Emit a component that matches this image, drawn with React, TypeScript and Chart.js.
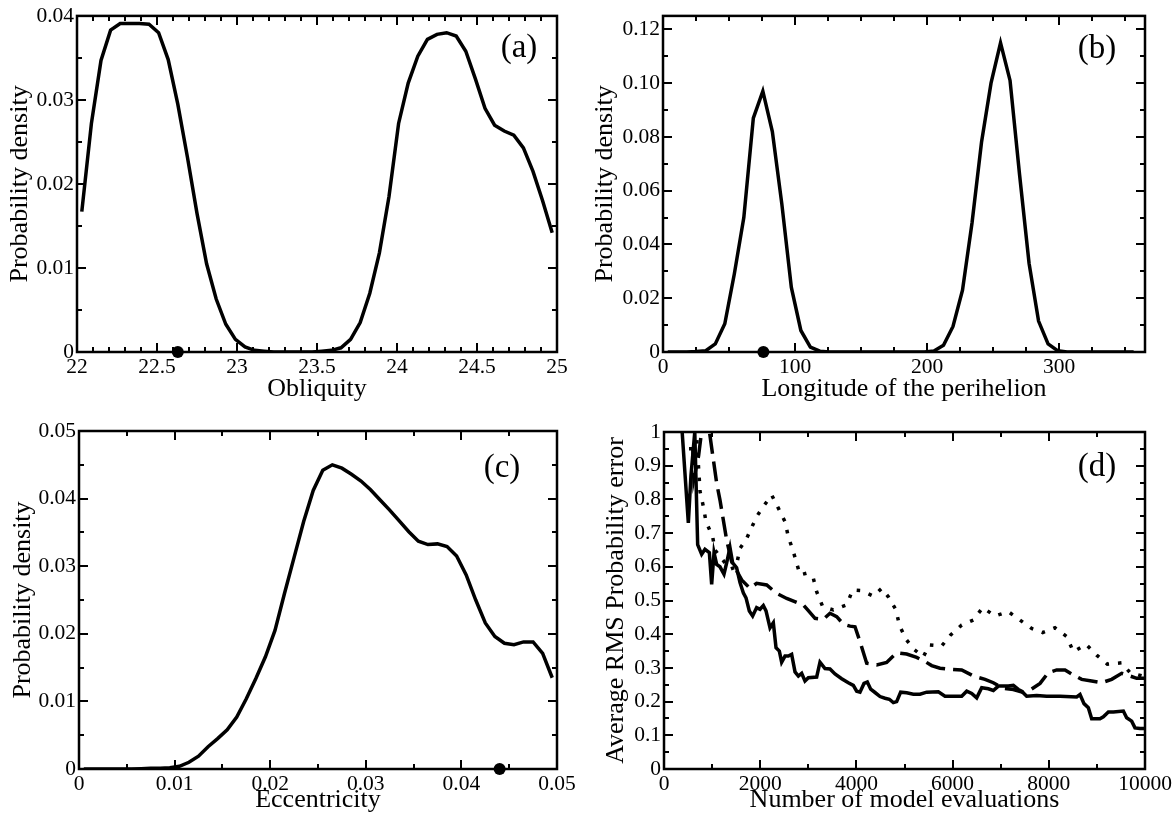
import React, { useEffect, useRef } from "react";
import { Chart, registerables } from "chart.js";

Chart.register(...registerables);

const SERIF = "'Liberation Serif', 'Times New Roman', Times, serif";

// ---------- Panel (a): Obliquity ----------
const obliquityX = [
  22.03, 22.09, 22.15, 22.21, 22.27, 22.33, 22.39, 22.45, 22.51, 22.57,
  22.63, 22.69, 22.75, 22.81, 22.87, 22.93, 22.99, 23.05, 23.11, 23.17,
  23.23, 23.29, 23.35, 23.41, 23.47, 23.53, 23.59, 23.65, 23.71, 23.77,
  23.83, 23.89, 23.95, 24.01, 24.07, 24.13, 24.19, 24.25, 24.31, 24.37,
  24.43, 24.49, 24.55, 24.61, 24.67, 24.73, 24.79, 24.85, 24.91, 24.97,
];
const obliquityDensity = [
  0.0167, 0.0272, 0.0347, 0.0383, 0.0391, 0.0391, 0.0391, 0.039, 0.038, 0.0348,
  0.0295, 0.0232, 0.0165, 0.0105, 0.0063, 0.0033, 0.0015, 0.0006, 0.0002, 0.0001,
  0, 0, 0, 0, 0, 0.0001, 0.0002, 0.0005, 0.0015, 0.0035,
  0.007, 0.0118, 0.0185, 0.0272, 0.032, 0.0352, 0.0372, 0.0378, 0.038, 0.0376,
  0.0358, 0.0325, 0.029, 0.027, 0.0263, 0.0258, 0.0243, 0.0215, 0.018, 0.0142,
];
const obliquityMarker = [22.63];
const obliquityTicks = [22, 22.5, 23, 23.5, 24, 24.5, 25];
const obliquityTickLabels = ["22", "22.5", "23", "23.5", "24", "24.5", "25"];
const obliquityDensityTicks = [0, 0.01, 0.02, 0.03, 0.04];
const obliquityDensityTickLabels = ["0", "0.01", "0.02", "0.03", "0.04"];

// ---------- Panel (b): Longitude of the perihelion ----------
const perihelionX = [
  3.6, 10.8, 18, 25.2, 32.4, 39.6, 46.8, 54, 61.2, 68.4,
  75.6, 82.8, 90, 97.2, 104.4, 111.6, 118.8, 126, 133.2, 140.4,
  147.6, 154.8, 162, 169.2, 176.4, 183.6, 190.8, 198, 205.2, 212.4,
  219.6, 226.8, 234, 241.2, 248.4, 255.6, 262.8, 270, 277.2, 284.4,
  291.6, 298.8, 306, 313.2, 320.4, 327.6, 334.8, 342, 349.2, 356.4,
];
const perihelionDensity = [
  0, 0, 0, 0.0002, 0.0005, 0.003, 0.0105, 0.029, 0.05, 0.087,
  0.097, 0.082, 0.055, 0.024, 0.008, 0.0018, 0.0003, 0, 0, 0,
  0, 0, 0, 0, 0, 0, 0, 0, 0.0004, 0.0025,
  0.0095, 0.023, 0.048, 0.078, 0.1, 0.115, 0.101, 0.066, 0.033, 0.0115,
  0.003, 0.0005, 0, 0, 0, 0, 0, 0, 0, 0,
];
const perihelionMarker = [76];
const perihelionTicks = [0, 100, 200, 300];
const perihelionTickLabels = ["0", "100", "200", "300"];
const perihelionDensityTicks = [0, 0.02, 0.04, 0.06, 0.08, 0.1, 0.12];
const perihelionDensityTickLabels = ["0", "0.02", "0.04", "0.06", "0.08", "0.10", "0.12"];

// ---------- Panel (c): Eccentricity ----------
const eccentricityX = [
  0.0005, 0.0015, 0.0025, 0.0035, 0.0045, 0.0055, 0.0065, 0.0075, 0.0085, 0.0095,
  0.0105, 0.0115, 0.0125, 0.0135, 0.0145, 0.0155, 0.0165, 0.0175, 0.0185, 0.0195,
  0.0205, 0.0215, 0.0225, 0.0235, 0.0245, 0.0255, 0.0265, 0.0275, 0.0285, 0.0295,
  0.0305, 0.0315, 0.0325, 0.0335, 0.0345, 0.0355, 0.0365, 0.0375, 0.0385, 0.0395,
  0.0405, 0.0415, 0.0425, 0.0435, 0.0445, 0.0455, 0.0465, 0.0475, 0.0485, 0.0495,
];
const eccentricityDensity = [
  0, 0, 0, 0, 0, 0, 0.00005, 0.0001, 0.0001, 0.0002,
  0.0004, 0.001, 0.0019, 0.0033, 0.0045, 0.0058, 0.0077, 0.0104, 0.0134, 0.0166,
  0.0205, 0.026, 0.0313, 0.0366, 0.0412, 0.0442, 0.045, 0.0445, 0.0436, 0.0426,
  0.0413, 0.0398, 0.0383, 0.0367, 0.0351, 0.0337, 0.0332, 0.0333, 0.0329, 0.0315,
  0.0287, 0.025, 0.0216, 0.0196, 0.0186, 0.0184, 0.0188, 0.0188, 0.0171, 0.0135,
];
const eccentricityMarker = [0.044];
const eccentricityTicks = [0, 0.01, 0.02, 0.03, 0.04, 0.05];
const eccentricityTickLabels = ["0", "0.01", "0.02", "0.03", "0.04", "0.05"];
const eccentricityDensityTicks = [0, 0.01, 0.02, 0.03, 0.04, 0.05];
const eccentricityDensityTickLabels = ["0", "0.01", "0.02", "0.03", "0.04", "0.05"];

// ---------- Panel (d): RMS error vs evaluations ----------
const solidEvals = [
  330, 506, 560, 640, 700, 783, 852, 943, 991, 1040,
  1095, 1164, 1247, 1303, 1372, 1427, 1510, 1580, 1649, 1705,
  1774, 1843, 1926, 1996, 2065, 2121, 2204, 2273, 2329, 2398,
  2446, 2516, 2585, 2654, 2724, 2793, 2862, 2931, 3001, 3174,
  3243, 3347, 3451, 3555, 3694, 3832, 3936, 4006, 4075, 4158,
  4227, 4297, 4387, 4491, 4595, 4685, 4768, 4837, 4920, 5045,
  5184, 5322, 5461, 5704, 5842, 6015, 6189, 6293, 6397, 6501,
  6605, 6743, 6847, 6951, 7159, 7263, 7367, 7436, 7540, 7748,
  7955, 8233, 8580, 8649, 8732, 8822, 8891, 8995, 9064, 9134,
  9238, 9342, 9550, 9619, 9723, 9792, 9896, 10000,
];
const solidError = [
  1.1, 0.73, 0.87, 1.0, 0.666, 0.637, 0.652, 0.642, 0.548, 0.642,
  0.607, 0.6, 0.578, 0.612, 0.657, 0.612, 0.597, 0.553, 0.523, 0.508,
  0.469, 0.454, 0.479, 0.474, 0.485, 0.469, 0.419, 0.434, 0.36, 0.35,
  0.317, 0.335, 0.335, 0.34, 0.288, 0.276, 0.284, 0.261, 0.271, 0.273,
  0.317, 0.298, 0.297, 0.282, 0.268, 0.256, 0.248, 0.231, 0.228, 0.254,
  0.258, 0.237, 0.227, 0.215, 0.21, 0.207, 0.197, 0.2, 0.228, 0.226,
  0.222, 0.222, 0.228, 0.229, 0.216, 0.216, 0.216, 0.231, 0.224, 0.211,
  0.241, 0.238, 0.233, 0.246, 0.246, 0.248, 0.236, 0.231, 0.216, 0.218,
  0.216, 0.216, 0.214, 0.221, 0.194, 0.182, 0.149, 0.149, 0.149, 0.155,
  0.169, 0.169, 0.172, 0.152, 0.142, 0.122, 0.12, 0.12,
];
const dashedEvals = [
  520, 600, 620, 720, 780, 870, 945, 1095, 1164, 1303,
  1407, 1615, 1788, 1926, 2135, 2343, 2551, 2759, 2897, 3001,
  3140, 3313, 3451, 3590, 3728, 3867, 3971, 4075, 4214, 4422,
  4629, 4837, 5045, 5253, 5426, 5565, 5738, 5946, 6189, 6432,
  6674, 6847, 7055, 7263, 7471, 7610, 7818, 7991, 8164, 8338,
  8511, 8684, 8891, 9099, 9307, 9515, 9688, 9827, 10000,
];
const dashedError = [
  0.95, 0.95, 0.86, 0.93, 1.0, 1.04, 1.0, 0.848, 0.798, 0.679,
  0.615, 0.561, 0.536, 0.551, 0.546, 0.521, 0.506, 0.494, 0.487, 0.47,
  0.447, 0.444, 0.462, 0.452, 0.43, 0.424, 0.422, 0.378, 0.314, 0.309,
  0.316, 0.345, 0.341, 0.331, 0.319, 0.307, 0.299, 0.296, 0.294, 0.276,
  0.266, 0.256, 0.239, 0.236, 0.227, 0.234, 0.254, 0.286, 0.294, 0.294,
  0.279, 0.266, 0.261, 0.256, 0.266, 0.284, 0.276, 0.269, 0.269,
];
const dottedEvals = [
  650, 750, 818, 873, 1012, 1060, 1372, 1500, 1580, 1705,
  1926, 2065, 2239, 2377, 2516, 2585, 2689, 2828, 2966, 3105,
  3174, 3299, 3520, 3798, 3922, 4109, 4352, 4526, 4664, 4823,
  4893, 5031, 5198, 5392, 5516, 5773, 5960, 6189, 6432, 6626,
  6882, 7159, 7401, 7644, 7873, 8129, 8372, 8511, 8774, 8995,
  9217, 9515, 9688, 10000,
];
const dottedError = [
  1.05, 0.823, 0.779, 0.734, 0.689, 0.65, 0.593, 0.6, 0.655, 0.68,
  0.749, 0.779, 0.813, 0.774, 0.734, 0.689, 0.645, 0.576, 0.581, 0.566,
  0.526, 0.482, 0.472, 0.487, 0.531, 0.529, 0.513, 0.536, 0.511, 0.472,
  0.427, 0.385, 0.355, 0.333, 0.368, 0.365, 0.398, 0.427, 0.442, 0.479,
  0.454, 0.467, 0.442, 0.417, 0.405, 0.419, 0.393, 0.348, 0.37, 0.338,
  0.311, 0.315, 0.286, 0.274,
];
const evalTicks = [0, 2000, 4000, 6000, 8000, 10000];
const evalTickLabels = ["0", "2000", "4000", "6000", "8000", "10000"];
const errorTicks = [0, 0.1, 0.2, 0.3, 0.4, 0.5, 0.6, 0.7, 0.8, 0.9, 1];
const errorTickLabels = ["0", "0.1", "0.2", "0.3", "0.4", "0.5", "0.6", "0.7", "0.8", "0.9", "1"];

// ---------- layout / style ----------
type Series = { xs: number[]; ys: number[]; dash?: number[] };
type PanelSpec = {
  left: number; top: number; width: number; height: number;
  area: { l: number; t: number; r: number; b: number };
  xMin: number; xMax: number; yMin: number; yMax: number;
  xTicks: number[]; xTickLabels: string[]; xMinorStep: number;
  yTicks: number[]; yTickLabels: string[]; yMinorStep: number;
  xTitle: string; yTitle: string; xTitlePad: number; yTitlePad: number;
  label: string; labelX: number; labelY: number;
  series: Series[];
  marker?: number[];
};

function pts(xs: number[], ys: number[]) {
  return xs.map((x, i) => ({ x, y: ys[i] }));
}

function buildChart(canvas: HTMLCanvasElement, s: PanelSpec) {
  const frame = {
    id: "frameTicks",
    afterDatasetsDraw(chart: any) {
      const { ctx, chartArea } = chart;
      const { left, right, top, bottom } = chartArea;
      const xs = chart.scales.x;
      const ys = chart.scales.y;
      ctx.save();
      ctx.strokeStyle = "#000";
      ctx.lineWidth = 2;
      ctx.beginPath();
      const major = 9;
      const minor = 5;
      const xMark = (v: number, len: number) => {
        const p = Math.round(xs.getPixelForValue(v));
        ctx.moveTo(p, bottom);
        ctx.lineTo(p, bottom - len);
        ctx.moveTo(p, top);
        ctx.lineTo(p, top + len);
      };
      const yMark = (v: number, len: number) => {
        const p = Math.round(ys.getPixelForValue(v));
        ctx.moveTo(left, p);
        ctx.lineTo(left + len, p);
        ctx.moveTo(right, p);
        ctx.lineTo(right - len, p);
      };
      for (let v = s.xMin; v <= s.xMax + 1e-9; v += s.xMinorStep) xMark(v, minor);
      for (let v = s.yMin; v <= s.yMax + 1e-9; v += s.yMinorStep) yMark(v, minor);
      s.xTicks.forEach((v) => xMark(v, major));
      s.yTicks.forEach((v) => yMark(v, major));
      ctx.stroke();
      ctx.lineWidth = 2.5;
      ctx.strokeRect(left, top, right - left, bottom - top);
      ctx.fillStyle = "#000";
      ctx.font = `33px ${SERIF}`;
      ctx.textAlign = "center";
      ctx.textBaseline = "middle";
      ctx.fillText(s.label, s.labelX - s.left, s.labelY - s.top);
      ctx.restore();
    },
  };

  const datasets: any[] = s.series.map((ser) => ({
    data: pts(ser.xs, ser.ys),
    showLine: true,
    borderColor: "#000",
    backgroundColor: "#000",
    borderWidth: 3.5,
    borderDash: ser.dash || [],
    borderJoinStyle: "miter",
    pointRadius: 0,
    tension: 0,
  }));
  if (s.marker) {
    datasets.push({
      data: s.marker.map((x) => ({ x, y: 0 })),
      showLine: false,
      pointRadius: 6,
      pointBackgroundColor: "#000",
      pointBorderWidth: 0,
      clip: false,
    });
  }

  const tickFont = { family: SERIF, size: 21.5 };
  const titleFont = { family: SERIF, size: 26 };

  return new Chart(canvas, {
    type: "scatter",
    data: { datasets },
    options: {
      responsive: false,
      animation: false,
      events: [],
      layout: {
        padding: {
          top: s.area.t - s.top,
          right: s.left + s.width - s.area.r,
          left: 0,
          bottom: 0,
        },
      },
      plugins: { legend: { display: false }, tooltip: { enabled: false } },
      scales: {
        x: {
          type: "linear",
          min: s.xMin,
          max: s.xMax,
          grid: { display: false, drawTicks: false },
          border: { display: false },
          afterBuildTicks: (sc: any) => {
            sc.ticks = s.xTicks.map((v) => ({ value: v }));
          },
          afterFit: (sc: any) => {
            sc.height = s.top + s.height - s.area.b;
          },
          ticks: {
            color: "#000",
            font: tickFont,
            padding: 2,
            maxRotation: 0,
            minRotation: 0,
            autoSkip: false,
            callback: (_v: any, i: number) => s.xTickLabels[i],
          },
          title: {
            display: true,
            text: s.xTitle,
            color: "#000",
            font: titleFont,
            padding: { top: 0, bottom: s.xTitlePad },
          },
        },
        y: {
          type: "linear",
          min: s.yMin,
          max: s.yMax,
          grid: { display: false, drawTicks: false },
          border: { display: false },
          afterBuildTicks: (sc: any) => {
            sc.ticks = s.yTicks.map((v) => ({ value: v }));
          },
          afterFit: (sc: any) => {
            sc.width = s.area.l - s.left;
          },
          ticks: {
            color: "#000",
            font: tickFont,
            padding: 3,
            autoSkip: false,
            callback: (_v: any, i: number) => s.yTickLabels[i],
          },
          title: {
            display: true,
            text: s.yTitle,
            color: "#000",
            font: titleFont,
            padding: { top: s.yTitlePad, bottom: 0 },
          },
        },
      },
    } as any,
    plugins: [frame],
  });
}

const panels: PanelSpec[] = [
  {
    left: 0, top: 0, width: 590, height: 410,
    area: { l: 77, t: 14, r: 557, b: 352 },
    xMin: 22, xMax: 25, yMin: 0, yMax: 0.04,
    xTicks: obliquityTicks, xTickLabels: obliquityTickLabels, xMinorStep: 0.1,
    yTicks: obliquityDensityTicks, yTickLabels: obliquityDensityTickLabels, yMinorStep: 0.005,
    xTitle: "Obliquity", yTitle: "Probability density", xTitlePad: 5, yTitlePad: 5,
    label: "(a)", labelX: 519, labelY: 48,
    series: [{ xs: obliquityX, ys: obliquityDensity }],
    marker: obliquityMarker,
  },
  {
    left: 590, top: 0, width: 585, height: 410,
    area: { l: 663, t: 14, r: 1145, b: 352 },
    xMin: 0, xMax: 365, yMin: 0, yMax: 0.125,
    xTicks: perihelionTicks, xTickLabels: perihelionTickLabels, xMinorStep: 25,
    yTicks: perihelionDensityTicks, yTickLabels: perihelionDensityTickLabels, yMinorStep: 0.01,
    xTitle: "Longitude of the perihelion", yTitle: "Probability density", xTitlePad: 5, yTitlePad: 0,
    label: "(b)", labelX: 1097, labelY: 49,
    series: [{ xs: perihelionX, ys: perihelionDensity }],
    marker: perihelionMarker,
  },
  {
    left: 0, top: 410, width: 590, height: 408,
    area: { l: 79, t: 431, r: 557, b: 769 },
    xMin: 0, xMax: 0.05, yMin: 0, yMax: 0.05,
    xTicks: eccentricityTicks, xTickLabels: eccentricityTickLabels, xMinorStep: 0.005,
    yTicks: eccentricityDensityTicks, yTickLabels: eccentricityDensityTickLabels, yMinorStep: 0.005,
    xTitle: "Eccentricity", yTitle: "Probability density", xTitlePad: 2, yTitlePad: 8,
    label: "(c)", labelX: 502, labelY: 468,
    series: [{ xs: eccentricityX, ys: eccentricityDensity }],
    marker: eccentricityMarker,
  },
  {
    left: 590, top: 410, width: 585, height: 408,
    area: { l: 664, t: 432, r: 1145, b: 769 },
    xMin: 0, xMax: 10000, yMin: 0, yMax: 1,
    xTicks: evalTicks, xTickLabels: evalTickLabels, xMinorStep: 1000,
    yTicks: errorTicks, yTickLabels: errorTickLabels, yMinorStep: 0.05,
    xTitle: "Number of model evaluations", yTitle: "Average RMS Probability error", xTitlePad: 2, yTitlePad: 11,
    label: "(d)", labelX: 1097, labelY: 467,
    series: [
      { xs: solidEvals, ys: solidError },
      { xs: dashedEvals, ys: dashedError, dash: [20, 8] },
      { xs: dottedEvals, ys: dottedError, dash: [3.5, 9] },
    ],
  },
];

function Panel({ spec }: { spec: PanelSpec }) {
  const ref = useRef<HTMLCanvasElement>(null);
  useEffect(() => {
    const chart = buildChart(ref.current as HTMLCanvasElement, spec);
    return () => chart.destroy();
  }, [spec]);
  return (
    <canvas
      ref={ref}
      width={spec.width}
      height={spec.height}
      style={{
        position: "absolute",
        left: spec.left,
        top: spec.top,
        width: spec.width,
        height: spec.height,
      }}
    />
  );
}

export default function App() {
  return (
    <div
      style={{
        position: "absolute",
        left: 0,
        top: 0,
        width: 1175,
        height: 818,
        background: "#fff",
      }}
    >
      {panels.map((p, i) => (
        <Panel key={i} spec={p} />
      ))}
    </div>
  );
}
